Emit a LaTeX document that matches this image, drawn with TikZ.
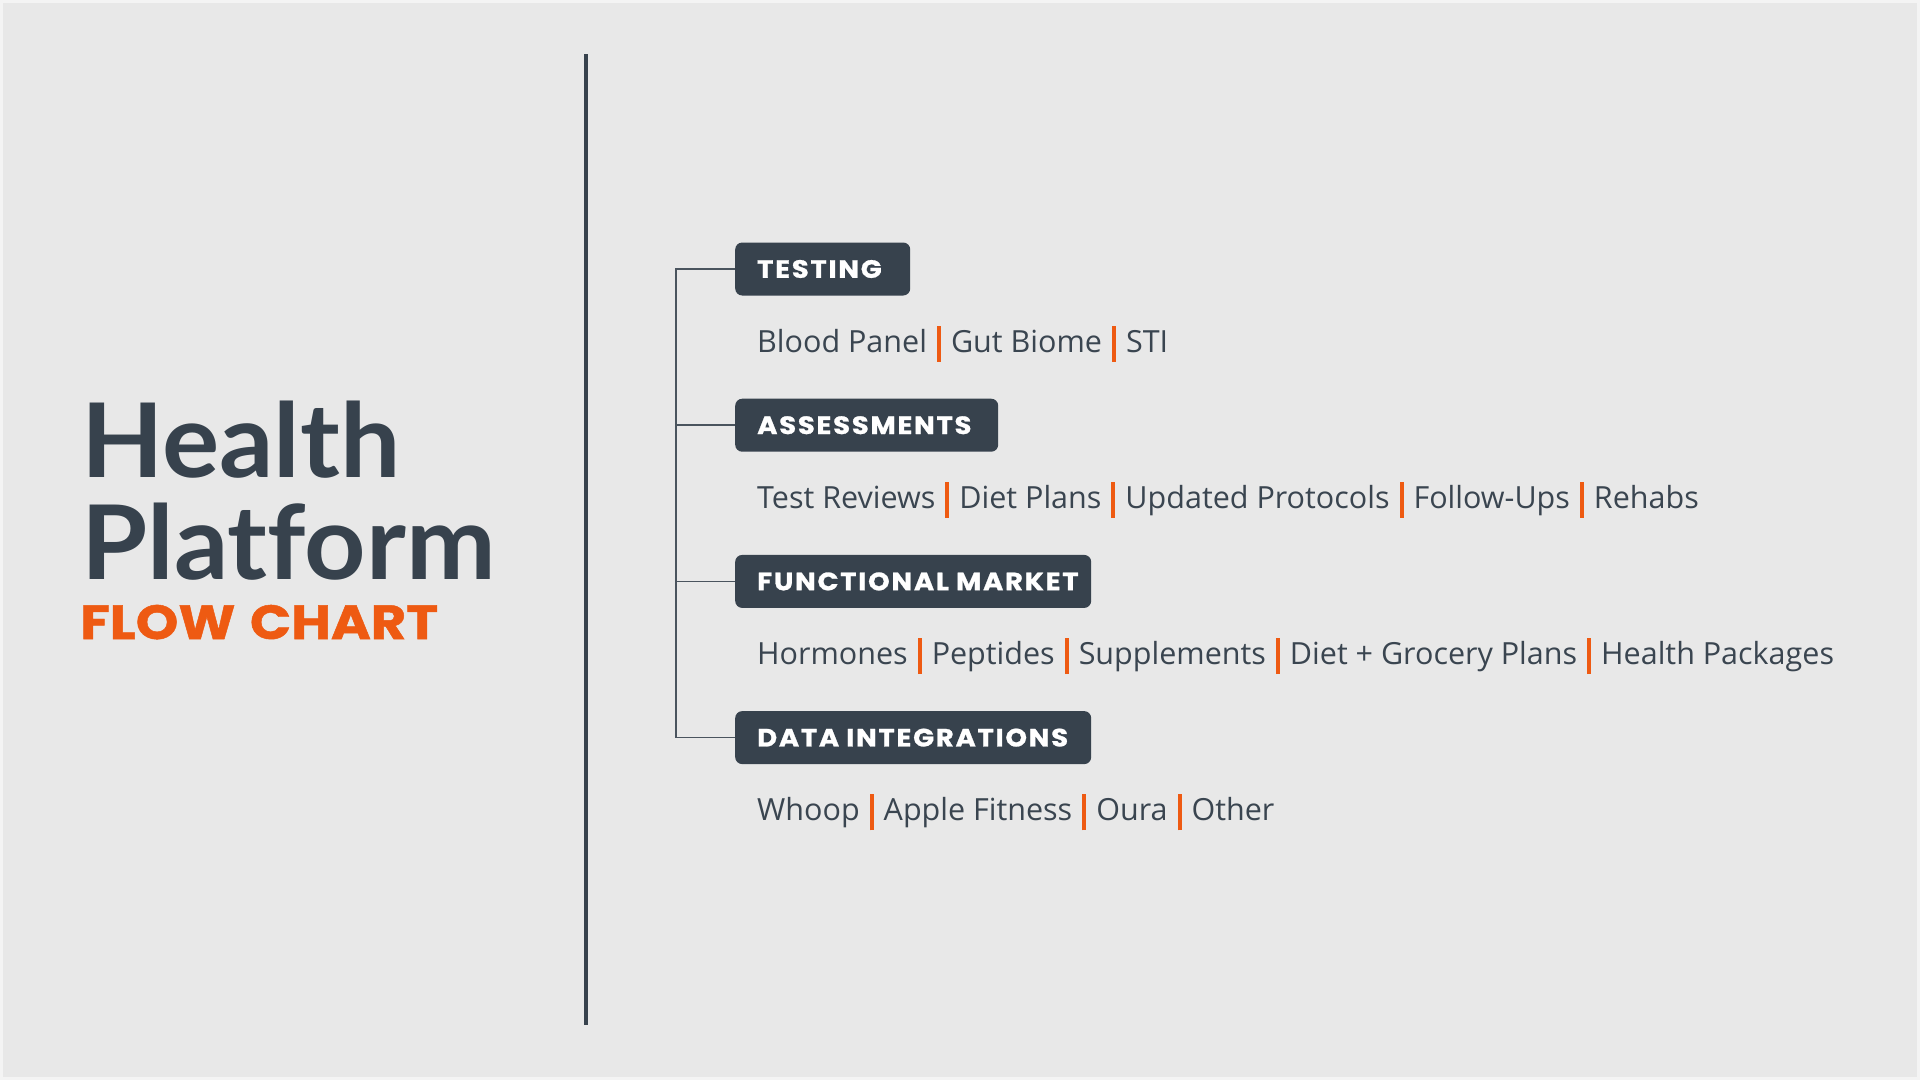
\documentclass[tikz,border=0pt]{standalone}
\usepackage{fontspec}
\setmainfont{Open Sans}
\newfontfamily\titlefont{Lato}[Ligatures=NoCommon,FakeStretch=1.04]
\newfontfamily\labelfont{Poppins}[LetterSpace=7,FakeStretch=1.1,FakeBold=1]
\newfontfamily\flowfont{Poppins}[FakeStretch=1.13,FakeBold=1]
\definecolor{bgcol}{HTML}{E8E8E8}
\definecolor{edgecol}{HTML}{F4F4F4}
\definecolor{slate}{HTML}{37424D}
\definecolor{inkcol}{HTML}{3A4550}
\definecolor{treecol}{HTML}{4A545E}
\definecolor{accent}{HTML}{EE5A12}
\newcommand\sepbar{\hspace{10pt}{\color{accent}\rule[-9.7pt]{4pt}{36pt}}\hspace{10pt}}
\newcommand\wsp{\hspace{7pt}}
\newcommand\boxtext[2]{\makebox[#1][l]{#2}}
\begin{document}
\begin{tikzpicture}[x=1pt,y=-1pt,
  labelbox/.style={fill=slate,rounded corners=7pt,draw=none,anchor=west,
    minimum height=53pt,inner xsep=22pt,inner ysep=0pt,
    text=white,font=\labelfont\bfseries\fontsize{25}{30}\selectfont},
  itemline/.style={anchor=base west,inner sep=0pt,text=inkcol,
    font=\fontsize{30.5}{36}\selectfont},
  titleline/.style={anchor=base west,inner sep=0pt,text=slate,
    font=\titlefont\bfseries\fontsize{103}{110}\selectfont},
  tree/.style={draw=treecol,line width=1.5pt},
  divider/.style={draw=slate,line width=3.8pt}]
\useasboundingbox (0,0) rectangle (1920,1080);
\fill[edgecol] (0,0) rectangle (1920,1080);
\fill[bgcol] (3,3) rectangle (1917,1077);
% divider
\coordinate (dtop) at (586,54);
\coordinate (dbot) at (586,1025);
\draw[divider] (dtop) -- (dbot);
% title
\node[titleline] (t1) at (81,477) {Health};
\node[titleline] (t2) at (81,579) {Platform};
\node[anchor=base west,inner sep=0pt,text=accent,font=\flowfont\bfseries\fontsize{48}{56}\selectfont] (t3) at (80,639) {FLOW\hspace{3pt} CHART};
% boxes
\node[labelbox] (b1) at (735,269) {\boxtext{131pt}{TESTING}};
\node[labelbox] (b2) at (735,425.2) {\boxtext{219pt}{ASSESSMENTS}};
\node[labelbox] (b3) at (735,581.4) {\boxtext{312pt}{FUNCTIONAL\wsp MARKET}};
\node[labelbox] (b4) at (735,737.6) {\boxtext{312pt}{DATA\wsp INTEGRATIONS}};
% tree connectors
\draw[tree] (b1.west) -- ++(-59,0) |- (b4.west);
\draw[tree] (b2.west) -- ++(-59,0);
\draw[tree] (b3.west) -- ++(-59,0);
% items
\node[itemline] (i1) at (757,352) {Blood Panel\sepbar Gut Biome\sepbar STI};
\node[itemline] (i2) at (757,508.2) {Test Reviews\sepbar Diet Plans\sepbar Updated Protocols\sepbar Follow-Ups\sepbar Rehabs};
\node[itemline] (i3) at (757,664.4) {Hormones\sepbar Peptides\sepbar Supplements\sepbar Diet + Grocery Plans\sepbar Health Packages};
\node[itemline] (i4) at (757,820.6) {Whoop\sepbar Apple Fitness\sepbar Oura\sepbar Other};
\end{tikzpicture}
\end{document}
